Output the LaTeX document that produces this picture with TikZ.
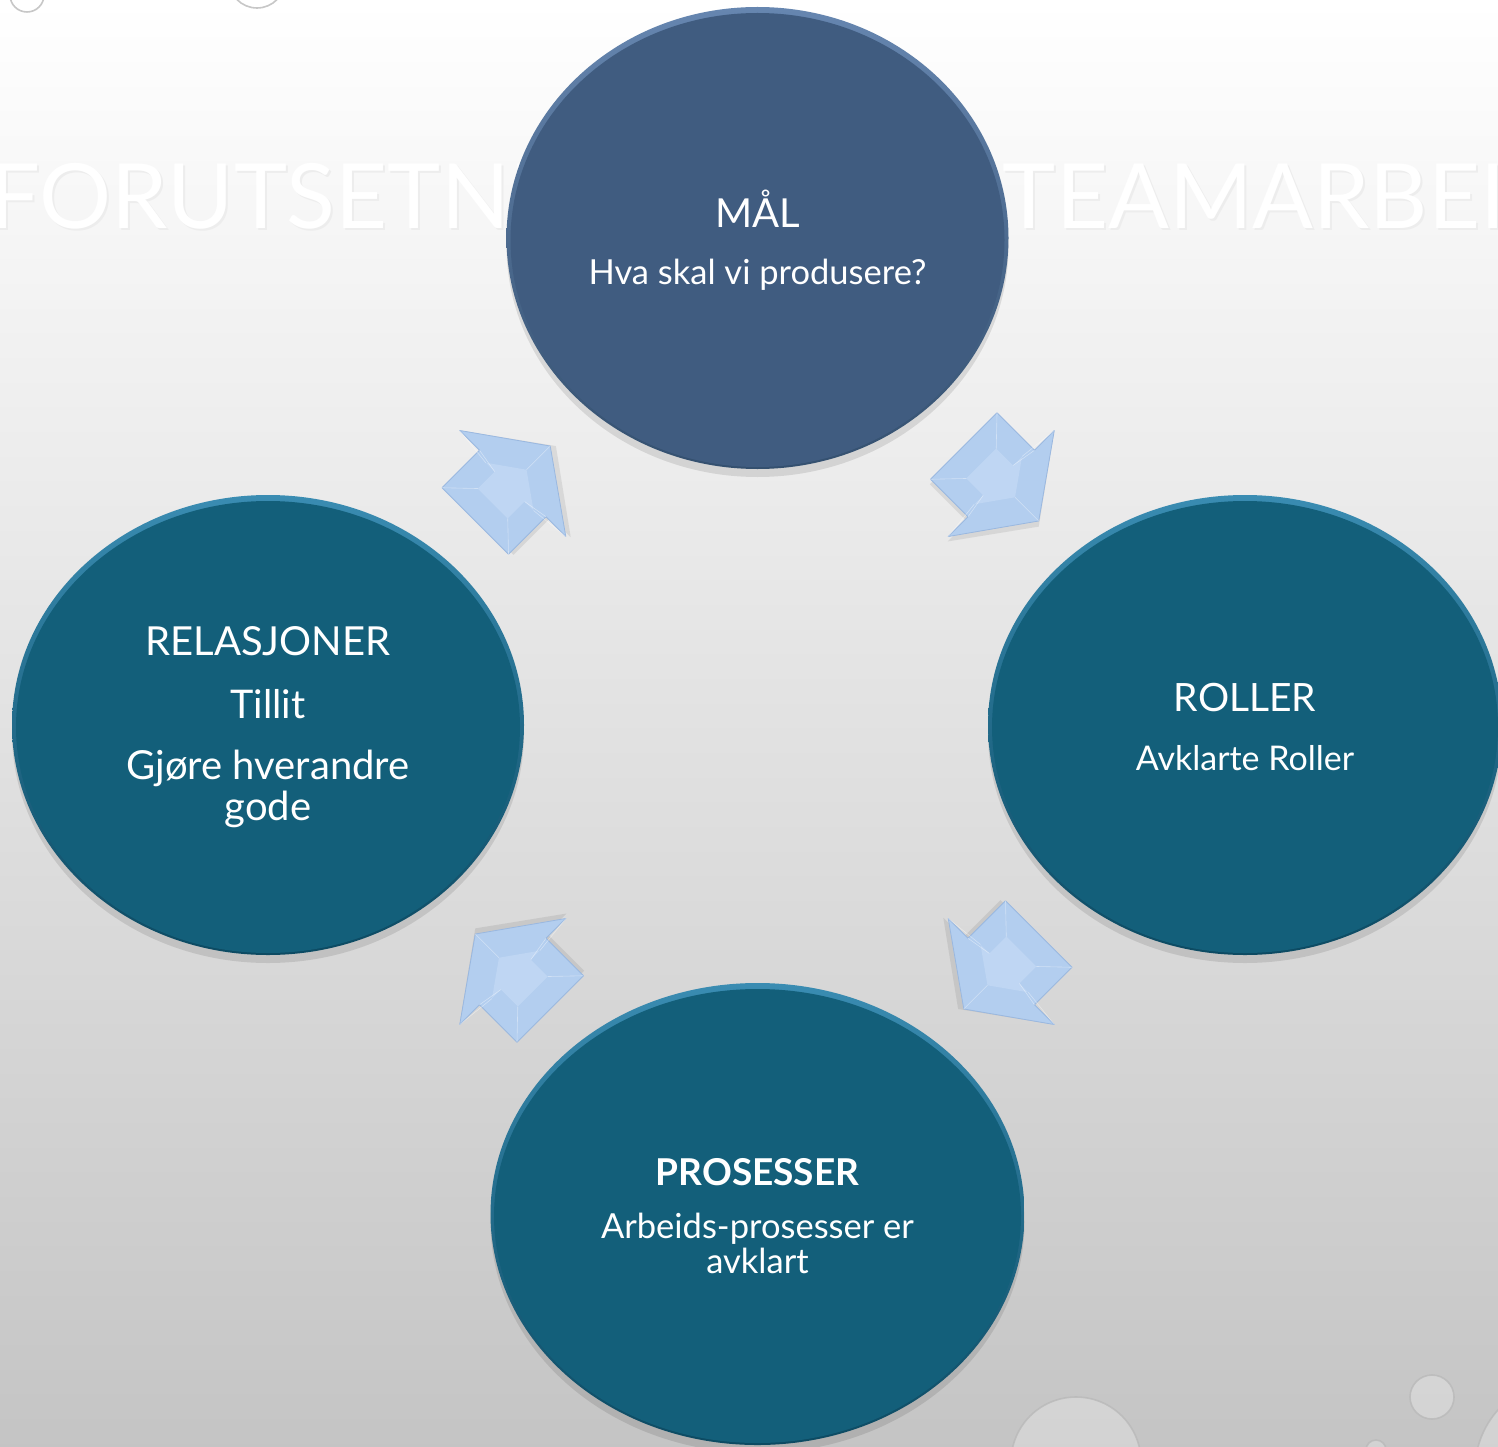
\documentclass[tikz,border=0pt]{standalone}
\usepackage{fontspec}
\setmainfont{Lato}
\usetikzlibrary{shapes.geometric,calc}

\definecolor{malblue}{HTML}{405C80}
\definecolor{malrim}{HTML}{6686B0}
\definecolor{maldeep}{HTML}{34506F}
\definecolor{tealbody}{HTML}{135F7A}
\definecolor{tealrim}{HTML}{3A8CB2}
\definecolor{tealdeep}{HTML}{0C4A62}
\definecolor{arrowface}{HTML}{B3CEEF}
\definecolor{arrowlight}{HTML}{BFD6F3}
\definecolor{arrowedge}{HTML}{9AB8E0}

\tikzset{
  cyclearrow/.pic={
    \fill[black, opacity=0.08] (-50,-43) -- (3,-43) -- (3,-71) -- (57,4) -- (3,79) -- (3,51) -- (-50,51) -- cycle;
    \filldraw[draw=arrowedge, fill=arrowface, line width=0.8pt, line join=round]
      (-53,-47) -- (0,-47) -- (0,-75) -- (53,0) -- (0,75) -- (0,47) -- (-53,47) -- cycle;
    \fill[arrowlight] (-28.3,-21.2) -- (-4.4,-21.2) -- (-4.4,-33.8) -- (19.5,0) -- (-4.4,33.8) -- (-4.4,21.2) -- (-28.3,21.2) -- cycle;
    \draw[white, opacity=0.4, line width=0.6pt]
      (-53,-47) -- (-28.3,-21.2) (0,-47) -- (-4.4,-21.2) (0,-75) -- (-4.4,-33.8)
      (53,0) -- (19.5,0) (0,75) -- (-4.4,33.8) (0,47) -- (-4.4,21.2) (-53,47) -- (-28.3,21.2);
  }
}

\begin{document}
\begin{tikzpicture}[x=1pt, y=-1pt,
    cyclenode/.style={ellipse, inner sep=0pt, text=white, align=center, font=\fontsize{30}{40}\selectfont},
    ghost/.style={font=\fontsize{90}{94}\selectfont, inner sep=0pt},
    bubble/.style={fill=white, fill opacity=0.25, draw=gray!55, line width=1.6pt, draw opacity=0.8},
    ellshadow/.style={fill=black, opacity=0.10}]
  %%%%%%%%%%%%%%%%%%%%%%%%%%%%%%%%%
  \shade[top color=white, middle color=gray!6, bottom color=gray!46] (0,0) rectangle (1498,1447);
  \useasboundingbox (0,0) rectangle (1498,1447);
  \node[ghost, text=black!7, anchor=base west] (titleshadow) at (-9,231) {FORUTSETNINGER FOR TEAMARBEID};
  \node[ghost, text=white, anchor=base west] (title) at (-11,229) {FORUTSETNINGER FOR TEAMARBEID};
  %%%%%%%%%%%%%%%%%%%%%%%%%%%%%%%%%
  \draw[bubble] (27,-5) circle (17);
  \draw[bubble] (257,-20) circle (28);
  \draw[bubble] (1076,1462) circle (65);
  \draw[bubble] (1432,1397) circle (22);
  \draw[bubble] (1376,1450) circle (10);
  \draw[bubble] (1565,1470) circle (90);
  %%%%%%%%%%%%%%%%%%%%%%%%%%%%%%%%%
  \fill[ellshadow] (757.5,246) ellipse [x radius=251, y radius=231];
  \fill[ellshadow] (1245,733) ellipse [x radius=257, y radius=230];
  \fill[ellshadow] (268,733) ellipse [x radius=256, y radius=230];
  \fill[ellshadow] (757.5,1222) ellipse [x radius=267, y radius=231];
  \shade[top color=malrim, bottom color=maldeep] (757.5,238) ellipse [x radius=251, y radius=231];
  \shade[top color=tealrim, bottom color=tealdeep] (1245,725) ellipse [x radius=257, y radius=230];
  \shade[top color=tealrim, bottom color=tealdeep] (268,725) ellipse [x radius=256, y radius=230];
  \shade[top color=tealrim, bottom color=tealdeep] (757.5,1214) ellipse [x radius=267, y radius=231];
  %%%%%%%%%%%%%%%%%%%%%%%%%%%%%%%%%
  \node[cyclenode, fill=malblue, minimum width=494pt, minimum height=454pt] (mal) at (757.5,240)
    {{\fontsize{40}{40}\selectfont MÅL}\\[17pt]{\fontsize{34.5}{40}\selectfont Hva skal vi produsere?}};
  \node[cyclenode, fill=tealbody, minimum width=506pt, minimum height=452pt] (roller) at (1245,727)
    {{\fontsize{39}{40}\selectfont ROLLER}\\[19pt]{\fontsize{34}{40}\selectfont Avklarte Roller}};
  \node[cyclenode, fill=tealbody, minimum width=504pt, minimum height=452pt] (relasjoner) at (268,727)
    {{\fontsize{40}{40}\selectfont RELASJONER}\\[23pt]{\fontsize{39.5}{40}\selectfont Tillit}\\[21pt]
     {\fontsize{40}{40}\selectfont Gjøre hverandre}\\[1pt]{\fontsize{40}{40}\selectfont gode}};
  \node[cyclenode, fill=tealbody, minimum width=527pt, minimum height=454pt] (prosesser) at (757.5,1216)
    {{\fontsize{37}{40}\selectfont\bfseries PROSESSER}\\[13pt]{\fontsize{34.5}{40}\selectfont Arbeids-prosesser er}\\[-5pt]
     {\fontsize{34.5}{40}\selectfont avklart}};
  %%%%%%%%%%%%%%%%%%%%%%%%%%%%%%%%%
  \pic[rotate=-45] at ($(mal)!0.5!(roller)$) {cyclearrow};
  \pic[rotate=-135] at ($(roller)!0.5!(prosesser)$) {cyclearrow};
  \pic[rotate=135] at ($(prosesser)!0.5!(relasjoner)$) {cyclearrow};
  \pic[rotate=45] at ($(relasjoner)!0.5!(mal)$) {cyclearrow};
  %%%%%%%%%%%%%%%%%%%%%%%%%%%%%%%%%
\end{tikzpicture}
\end{document}
